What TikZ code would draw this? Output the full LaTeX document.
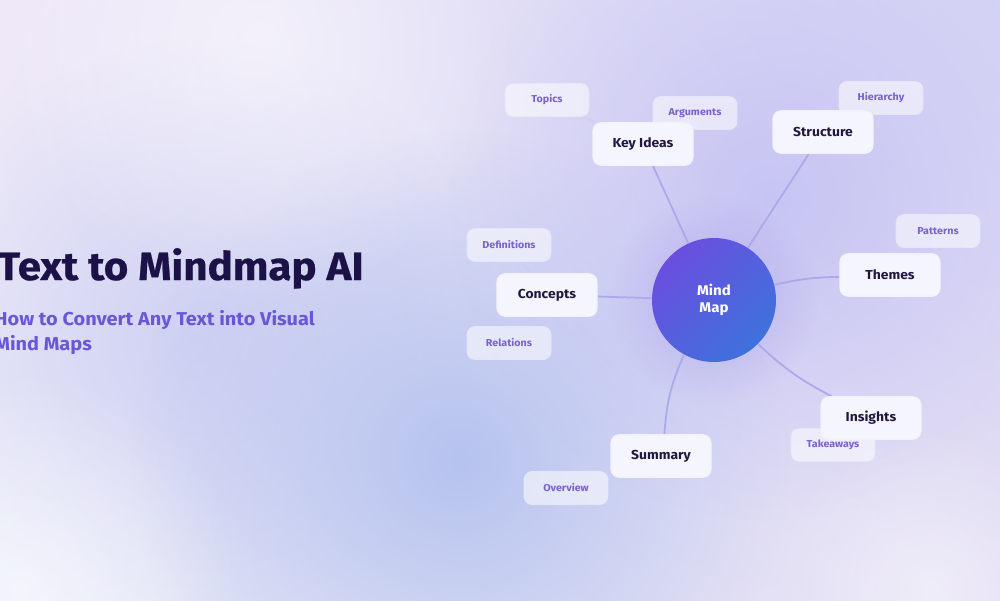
\documentclass[tikz,border=0pt]{standalone}
\usepackage{fontspec}
\setmainfont[FakeStretch=1.07]{Fira Sans}
\usetikzlibrary{fadings, shadings}

\definecolor{bgTL}{HTML}{EFE8F8}
\definecolor{bgTR}{HTML}{D4D4F5}
\definecolor{bgBL}{HTML}{E6EAF8}
\definecolor{bgBR}{HTML}{E3DDF4}
\definecolor{blobA}{HTML}{B6C3EF}
\definecolor{blobB}{HTML}{C4C2F3}
\definecolor{blobC}{HTML}{CDCFF3}
\definecolor{titlecol}{HTML}{1D1248}
\definecolor{subcol}{HTML}{6B56D6}
\definecolor{ideatext}{HTML}{22183F}
\definecolor{leaftext}{HTML}{7A62CC}
\definecolor{linkcol}{HTML}{ABA9EA}
\definecolor{hubA}{HTML}{6B4EDF}
\definecolor{hubB}{HTML}{3E72DC}

\tikzfading[name=haze, inner color=transparent!0, outer color=transparent!100]

\pgfdeclarelayer{back}
\pgfdeclarelayer{links}
\pgfsetlayers{back,links,main}

\begin{document}
\begin{tikzpicture}[
    x=0.02cm, y=-0.02cm,
    heading/.style={font=\fontsize{22.4}{26}\selectfont\bfseries\addfontfeature{FakeBold=0.6}, text=titlecol, inner sep=0pt},
    tagline/.style={font=\fontsize{10.6}{13}\selectfont\bfseries, text=subcol, inner sep=0pt},
    hub/.style={circle, minimum size=2.48cm, inner sep=0pt, align=center,
                top color=hubA, bottom color=hubB, shading angle=45,
                font=\fontsize{8}{9.6}\selectfont\bfseries, text=white},
    idea/.style={draw=white!85!linkcol, line width=0.6pt, fill=white!96!blue, rounded corners=0.16cm,
                 minimum width=2cm, minimum height=0.85cm, font=\fontsize{7.4}{9}\selectfont\bfseries,
                 text=ideatext},
    leaf/.style={draw=white!70!linkcol, line width=0.4pt, fill=white, fill opacity=0.55, text opacity=1,
                 rounded corners=0.16cm, minimum width=1.68cm, minimum height=0.66cm,
                 font=\fontsize{5.7}{7}\selectfont\bfseries, text=leaftext},
    glow/.style={fill opacity=#1, path fading=haze},
    link/.style={draw=linkcol, line width=1pt},
    twig/.style={draw=linkcol!60, line width=0.6pt}
  ]
    \useasboundingbox (0,0) rectangle (1000,600);
    \clip (0,0) rectangle (1000,600);

    \begin{pgfonlayer}{back}
      \clip (0,0) rectangle (1000,600);
      \shade[upper left=bgTL, upper right=bgTR, lower left=bgBL, lower right=bgBR] (0,0) rectangle (1000,600);
      \fill[blobC, glow=0.9] (200,340) circle (300);
      \fill[blobA, glow=1] (460,460) circle (330);
      \fill[blobB, glow=0.9] (770,200) circle (320);
      \fill[white, glow=0.55] (20,590) circle (220);
      \fill[white, glow=0.5] (260,40) circle (260);
      \fill[white, glow=0.45] (930,590) circle (160);
      \fill[hubA!50!blobB, glow=0.4] (714,300) circle (105);
    \end{pgfonlayer}

    \node[heading, anchor=base west] (head) at (-3,280) {Text to Mindmap AI};
    \node[tagline, anchor=base west] (tag1) at (-6,325) {How to Convert Any Text into Visual};
    \node[tagline, anchor=base west] (tag2) at (-6,350) {Mind Maps};

    \node[leaf] (topics) at (547,100) {Topics};
    \node[leaf] (args) at (695,113) {Arguments};
    \node[leaf] (hier) at (881,98) {Hierarchy};
    \node[leaf] (patt) at (938,231) {Patterns};
    \node[leaf] (defs) at (509,245) {Definitions};
    \node[leaf] (rel) at (509,343) {Relations};
    \node[leaf] (take) at (833,445) {Takeaways};
    \node[leaf] (over) at (566,488) {Overview};

    \node[idea] (key) at (643,144) {Key Ideas};
    \node[idea] (struct) at (823,132) {Structure};
    \node[idea] (themes) at (890,275) {Themes};
    \node[idea] (insight) at (871,418) {Insights};
    \node[idea] (summ) at (661,456) {Summary};
    \node[idea] (concept) at (547,295) {Concepts};

    \node[hub] (mind) at (714,300) {Mind\\Map};

    \begin{pgfonlayer}{links}
      \draw[link] (mind) -- (key);
      \draw[link] (mind) -- (struct);
      \draw[link] (mind) to[bend left=6] (themes);
      \draw[link] (mind) to[bend right=8] (insight);
      \draw[link] (mind) to[bend right=10] (summ);
      \draw[link] (mind) -- (concept);
      \draw[twig] (key) -- (topics);
      \draw[twig] (key) -- (args);
      \draw[twig] (struct) -- (hier);
      \draw[twig] (themes) -- (patt);
      \draw[twig] (concept) -- (defs);
      \draw[twig] (concept) -- (rel);
      \draw[twig] (insight) -- (take);
      \draw[twig] (summ) -- (over);
    \end{pgfonlayer}
\end{tikzpicture}
\end{document}
